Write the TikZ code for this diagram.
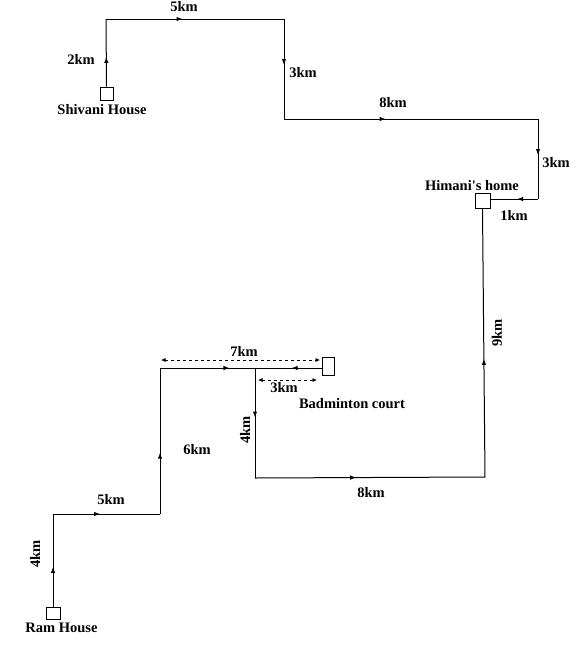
\documentclass[tikz,border=0pt]{standalone}
\usepackage{fontspec}
\setmainfont{Liberation Serif}
\usetikzlibrary{arrows.meta,decorations.markings}

\tikzset{
  road/.style={line width=1pt},
  tipat/.style={postaction={decorate},
    decoration={markings,mark=at position #1 with {\arrow{Latex[length=6pt,width=4.5pt]}}}},
  tipat/.default=0.44,
  house/.style={draw,line width=0.8pt,inner sep=0pt,minimum width=13pt,minimum height=13pt},
  lbl/.style={font=\bfseries\fontsize{14.5}{16}\selectfont,inner sep=0pt},
  span/.style={dashed,line width=0.7pt,{Latex[length=4.5pt,width=4pt]}-{Latex[length=4.5pt,width=4pt]}}
}

\begin{document}
\begin{tikzpicture}[x=1pt,y=-1pt]
\useasboundingbox (0,0) rectangle (585,649);
% places
\node[house] (shivani) at (106.5,93.5) {};
\node[house,minimum width=15pt,minimum height=15pt] (himani) at (482.5,200.5) {};
\node[house,minimum width=12pt,minimum height=18pt] (court) at (328,366.5) {};
\node[house,minimum width=14pt,minimum height=12pt] (ram) at (53,613) {};
\node[lbl] at (102,110) {Shivani House};
\node[lbl] at (472,186) {Himani\textquotesingle s home};
\node[lbl] at (352,404) {Badminton court};
\node[lbl] at (61.5,628) {Ram House};
% corners
\coordinate (s1) at (106,19);
\coordinate (s2) at (284,19);
\coordinate (s3) at (284,119);
\coordinate (s4) at (538,119);
\coordinate (s5) at (538,199);
\coordinate (r1) at (53,514);
\coordinate (r2) at (160,514);
\coordinate (r3) at (160,368);
\coordinate (j1) at (255,368);
\coordinate (j2) at (255,478);
\coordinate (j3) at (485,477);
% Shivani -> Himani
\draw[road,tipat] (shivani.north) -- (s1);
\draw[road,tipat=0.43] (s1) -- (s2);
\draw[road,tipat=0.46] (s2) -- (s3);
\draw[road,tipat=0.40] (s3) -- (s4);
\draw[road,tipat=0.45] (s4) -- (s5);
\draw[road,tipat] (s5) -- (himani.east |- s5);
% Ram -> court
\draw[road,tipat=0.43] (ram.north) -- (r1);
\draw[road,tipat] (r1) -- (r2);
\draw[road,tipat=0.42] (r2) -- (r3);
\draw[road,tipat=0.43] (r3) -- (court.west |- r3);
% court -> Himani
\draw[road,tipat=0.45] (court.west |- j1) -- (j1);
\draw[road,tipat=0.45] (j1) -- (j2);
\draw[road,tipat] (j2) -- (j3);
\draw[road,tipat] (j3) -- (himani.south);
% distances
\coordinate (d7a) at (161,360);
\coordinate (d7b) at (320,360);
\coordinate (d3a) at (258,380);
\coordinate (d3b) at (317,380);
\draw[span] (d7a) -- (d7b);
\draw[span] (d3a) -- (d3b);
\node[lbl] at (81,59) {2km};
\node[lbl] at (184,7) {5km};
\node[lbl] at (303,73) {3km};
\node[lbl] at (393,103) {8km};
\node[lbl] at (556,163) {3km};
\node[lbl] at (514,215) {1km};
\node[lbl,rotate=90] at (497,333) {9km};
\node[lbl] at (371,493) {8km};
\node[lbl,rotate=90] at (245,430) {4km};
\node[lbl] at (197,450) {6km};
\node[lbl] at (244,351) {7km};
\node[lbl] at (284,388) {3km};
\node[lbl] at (111,500) {5km};
\node[lbl,rotate=90] at (35,554) {4km};
\end{tikzpicture}
\end{document}
